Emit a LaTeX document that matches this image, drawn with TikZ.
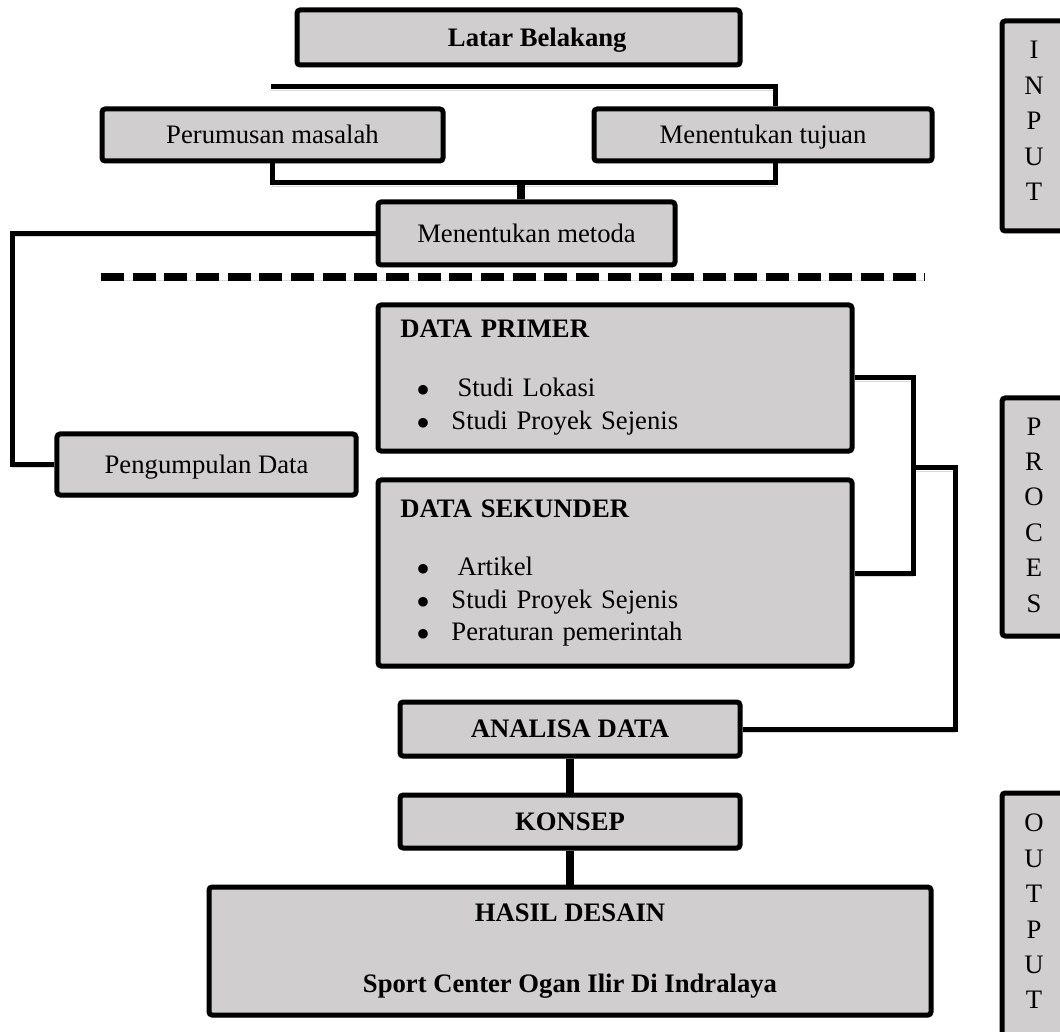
\documentclass[tikz,border=0pt]{standalone}
\usepackage{fontspec}
\setmainfont{Liberation Serif}
\usetikzlibrary{shadows,calc}
\definecolor{boxgray}{RGB}{208,206,206}
\tikzset{
  box/.style={draw=black, line width=2.4pt, fill=boxgray, rounded corners=1.5pt,
    inner sep=0pt, font=\fontsize{12.8}{15.5}\selectfont,
    drop shadow={shadow xshift=0.6pt, shadow yshift=-1.2pt, opacity=0.25}},
  onebox/.style={box, text height=8.6pt, text depth=0.4pt},
  conn/.style={line width=2.4pt,
    preaction={draw=black, opacity=0.15, transform canvas={yshift=-1.5pt}}},
  stem/.style={conn, line width=4.1pt},
  dashline/.style={line width=3.8pt, dash pattern=on 11pt off 4.2pt,
    preaction={draw=black, opacity=0.15, transform canvas={yshift=-1.5pt}}},
  sidebox/.style={box},
  sidetext/.style={font=\fontsize{12.8}{17}\selectfont, align=center, inner sep=0pt},
  listbox/.style={box, text width=206pt, align=left, inner xsep=10.5pt},
}
\newcommand{\bul}{\hspace*{7.9pt}\makebox[16.6pt][l]{$\bullet$}}
\begin{document}
\begin{tikzpicture}[x=0.48pt,y=-0.48pt]
\useasboundingbox (0,0) rectangle (1060,1032);

% side boxes
\node[sidebox, minimum width=32.64pt, minimum height=100.8pt] (inbox) at (1036,126) {};
\node[sidetext] (intxt) at (1034,121) {I\\N\\P\\U\\T};
\node[sidebox, minimum width=32.64pt, minimum height=114.24pt] (prbox) at (1036,517) {};
\node[sidetext] (prtxt) at (1034,515) {P\\R\\O\\C\\E\\S};
\node[sidebox, minimum width=32.64pt, minimum height=123.36pt] (outbox) at (1036,921.5) {};
\node[sidetext] (outtxt) at (1034,911.5) {O\\U\\T\\P\\U\\T};

% main boxes
\node[onebox, minimum width=212.64pt, minimum height=26.4pt] (latar) at (518.5,37.5)
  {\hspace*{18pt}\textbf{Latar Belakang}};
\node[onebox, minimum width=163.68pt, minimum height=24.96pt] (per) at (272.5,135)
  {Perumusan masalah};
\node[onebox, minimum width=162.24pt, minimum height=24.96pt] (tuj) at (763,135)
  {Menentukan tujuan};
\node[onebox, minimum width=142.56pt, minimum height=30.24pt] (met) at (526.5,233.5)
  {Menentukan metoda};
\node[listbox, minimum width=227.52pt, minimum height=70.08pt] (prim) at (615,378)
  {\textbf{DATA PRIMER}\\[12.8pt]
   \bul\hspace{2.9pt}Studi Lokasi\\[0.3pt]
   \bul Studi Proyek Sejenis};
\node[listbox, minimum width=227.52pt, minimum height=89.28pt] (sek) at (615,573)
  {\textbf{DATA SEKUNDER}\\[12.8pt]
   \bul\hspace{2.9pt}Artikel\\[0.1pt]
   \bul Studi Proyek Sejenis\\[0.1pt]
   \bul Peraturan pemerintah};
\node[onebox, minimum width=143.52pt, minimum height=29.28pt] (peng) at (206.5,464.5)
  {Pengumpulan Data};
\node[onebox, minimum width=163.2pt, minimum height=25.92pt] (ana) at (570,729)
  {\textbf{ANALISA DATA}};
\node[onebox, minimum width=163.2pt, minimum height=25.44pt] (kon) at (570,821.5)
  {\textbf{KONSEP}};
\node[box, minimum width=346.56pt, minimum height=61.44pt, align=center] (has) at (570,951)
  {\textbf{HASIL DESAIN}\\[18.5pt]\textbf{Sport Center Ogan Ilir Di Indralaya}};

% helper coordinates
\coordinate (ctop) at (271,87);
\coordinate (tj) at (775,0);
\coordinate (mid) at (521,183);
\coordinate (cl) at (12,0);
\coordinate (b1) at (913,468);
\coordinate (b2) at (955,468);
\coordinate (dl) at (101,277);
\coordinate (dr) at (925,277);

% connectors
\draw[conn] (ctop) -| (tuj.north -| tj);
\draw[conn] (per.south) |- (mid) -| (tuj.south -| tj);
\draw[stem] (mid) -- (mid |- met.north);
\draw[conn] (met.west) -| (peng.west -| cl) -- (peng.west);
\draw[dashline] (dl) -- (dr);
\draw[conn] (prim.east) -| (b1) |- (sek.east);
\draw[conn] (b1) -- (b2) |- (ana.east);
\draw[stem] (ana.south) -- (kon.north);
\draw[stem] (kon.south) -- (has.north -| kon.south);
\end{tikzpicture}
\end{document}
